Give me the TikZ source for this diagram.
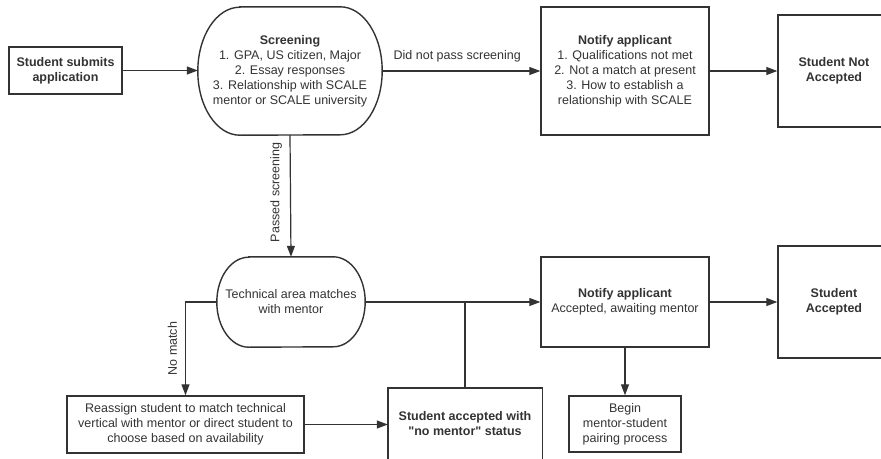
\documentclass[tikz,border=0pt]{standalone}
\usepackage{fontspec}
% plain family: straight double quotes stay straight
\newfontfamily\flowfont{Liberation Sans}
\usetikzlibrary{arrows.meta}
\definecolor{ink}{HTML}{333333}
\tikzset{
  base/.style={text=ink, font=\flowfont\fontsize{12.5}{15}\selectfont, align=center, inner sep=0pt},
  boxnode/.style={base, draw=ink, line width=1.4pt, rectangle},
  roundnode/.style={base, draw=none},
  outline/.style={draw=ink, line width=1.4pt},
  arr/.style={draw=ink, line width=1.2pt, -{Triangle[length=11pt,width=8pt]}},
  plain/.style={draw=ink, line width=1.2pt},
  lbl/.style={text=ink, font=\flowfont\fontsize{12.5}{15}\selectfont, inner sep=2pt},
}
\begin{document}
\begin{tikzpicture}[x=1pt, y=-1pt]
\useasboundingbox (0,0) rectangle (881,458);
\clip (0,0) rectangle (881,458);
\fill[white] (0,0) rectangle (881,458);

% top row
\node[boxnode, line width=1.8pt, minimum width=113pt, minimum height=47pt] (submit) at (65.5,70.5)
  {\textbf{Student submits}\\\textbf{application}};
\node[roundnode, minimum width=184pt, minimum height=128pt] (screen) at (290,71)
  {\textbf{Screening}\\1. GPA, US citizen, Major\\2. Essay responses\\3. Relationship with SCALE\\mentor or SCALE university};
\draw[outline] ([xshift=42pt]screen.north west) -- ([xshift=-42pt]screen.north east)
  arc[start angle=90, end angle=-90, x radius=42pt, y radius=64pt]
  -- ([xshift=42pt]screen.south west)
  arc[start angle=270, end angle=90, x radius=42pt, y radius=64pt] -- cycle;
\node[boxnode, minimum width=168pt, minimum height=128pt] (notify1) at (625,71)
  {\textbf{Notify applicant}\\1. Qualifications not met\\2. Not a match at present\\3. How to establish a\\relationship with SCALE};
\node[boxnode, minimum width=112pt, minimum height=112pt] (rejected) at (834,71)
  {\textbf{Student Not}\\\textbf{Accepted}};

% middle row
\node[roundnode, minimum width=148pt, minimum height=90pt] (tech) at (291,302)
  {Technical area matches\\with mentor};
\draw[outline] ([xshift=32pt]tech.north west) -- ([xshift=-32pt]tech.north east)
  arc[start angle=90, end angle=-90, x radius=32pt, y radius=45pt]
  -- ([xshift=32pt]tech.south west)
  arc[start angle=270, end angle=90, x radius=32pt, y radius=45pt] -- cycle;
\node[boxnode, minimum width=168pt, minimum height=90pt] (notify2) at (625,302)
  {\textbf{Notify applicant}\\Accepted, awaiting mentor};
\node[boxnode, minimum width=112pt, minimum height=112pt] (accepted) at (834,302)
  {\textbf{Student}\\\textbf{Accepted}};

% bottom row
\node[boxnode, minimum width=237pt, minimum height=57pt] (reassign) at (185.5,424.5)
  {Reassign student to match technical\\vertical with mentor or direct student to\\choose based on availability};
\node[roundnode, minimum width=154pt, minimum height=71pt] (nomentor) at (465,423.5)
  {\textbf{Student accepted with}\\\textbf{"no mentor" status}};
\draw[outline] (nomentor.north west) rectangle ([yshift=-20pt]nomentor.south east);
\node[boxnode, minimum width=112pt, minimum height=56pt] (pairing) at (625,424)
  {Begin\\mentor-student\\pairing process};

% connectors
\draw[arr] (submit.east) -- (submit.east -| screen.west);
\draw[arr] (screen.east) -- node[lbl, anchor=south, yshift=6pt, xshift=-4pt] (lblfail) {Did not pass screening} (notify1.west);
\draw[arr] (notify1.east) -- (rejected.west);
\draw[arr] (screen.south) -- node[lbl, rotate=90, anchor=south, yshift=6pt, pos=0.47] (lblpass) {Passed screening} (tech.north);
\draw[arr] (tech.west) -| node[lbl, rotate=90, anchor=south, yshift=6pt, pos=0.75] (lblnomatch) {No match} (reassign.north);
\draw[arr] (reassign.east) -- (reassign.east -| nomentor.west);
\draw[arr] (tech.east) -- (notify2.west);
\draw[plain] (nomentor.north) -- (nomentor.north |- tech.east);
\draw[arr] (notify2.south) -- (pairing.north);
\draw[arr] (notify2.east) -- (accepted.west);
\end{tikzpicture}
\end{document}
